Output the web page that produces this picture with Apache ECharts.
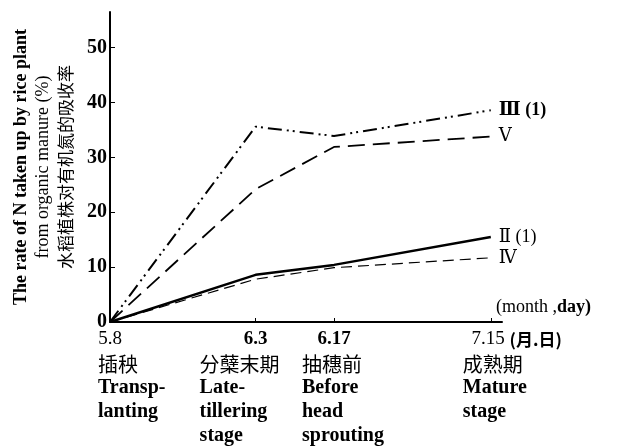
<!DOCTYPE html>
<html><head><meta charset="utf-8">
<script src="https://cdn.jsdelivr.net/npm/echarts@6/dist/echarts.min.js"></script>
<style>html,body{margin:0;padding:0;background:#fff}#c{width:619px;height:447px}</style>
</head><body><div id="c"></div>
<script>
// ---- data ----
const days = [0, 26, 40, 68];                 // days after 5.8
const dateLabels = ['5.8', '6.3', '6.17', '7.15'];
const stageCN = ['插秧', '分蘖末期', '抽穗前', '成熟期'];
const stageEN = [['Transp-', 'lanting'], ['Late-', 'tillering', 'stage'], ['Before', 'head', 'sprouting'], ['Mature', 'stage']];
const yTicks = [0, 10, 20, 30, 40, 50];
const seriesNames = ['Ⅲ (1)', 'Ⅴ', 'Ⅱ (1)', 'Ⅳ'];
const valsIII = [0, 35.6, 33.9, 38.6];
const valsV = [0, 24.2, 31.9, 33.8];
const valsII = [0, 8.6, 10.4, 15.5];
const valsIV = [0, 7.8, 9.9, 11.7];

// ---- styles ----
const SERIF = '"Liberation Serif", "DejaVu Serif", "Noto Sans CJK SC", serif';
const CJK = '"Noto Sans CJK SC", "Liberation Serif", serif';
const stageDx = [-12, -56, -32, -28];
const lineStyles = [
  {type: [14, 5, 2, 4, 2, 5], width: 2},
  {type: [17, 8], width: 1.8},
  {type: 'solid', width: 2.4},
  {type: [11, 6], width: 1.2}
];
const labelWeights = ['bold', 'normal', 'normal', 'normal'];
const allVals = [valsIII, valsV, valsII, valsIV];

const chart = echarts.init(document.getElementById('c'));
const option = {
  backgroundColor: '#fff',
  animation: false,
  grid: {left: 110, right: 117, top: 12, bottom: 125},
  xAxis: {
    type: 'value', min: 0, max: 70,
    name: '{a|(month ,}{b|day)}',
    nameLocation: 'end', nameGap: -6,
    nameTextStyle: {verticalAlign: 'bottom', align: 'left', padding: [0, 0, 6, 0],
      rich: {a: {fontFamily: SERIF, fontSize: 18, color: '#000'}, b: {fontFamily: SERIF, fontSize: 18, fontWeight: 'bold', color: '#000'}}},
    axisLine: {lineStyle: {color: '#000', width: 2}},
    axisTick: {show: true, inside: true, length: 4, customValues: days.slice(1), lineStyle: {color: '#000', width: 1}},
    axisLabel: {
      customValues: days, margin: 8,
      formatter: function (v) {
        const i = days.indexOf(v);
        if (i < 0) return '';
        if (i === 0) return '{r|' + dateLabels[i] + '}';
        if (i === days.length - 1) return '{p|}{r|' + dateLabels[i] + ' }{c|(月.日)}';
        return '{b|' + dateLabels[i] + '}';
      },
      rich: {
        r: {fontFamily: SERIF, fontSize: 19, color: '#000'},
        b: {fontFamily: SERIF, fontSize: 19, fontWeight: 'bold', color: '#000'},
        c: {fontFamily: CJK, fontSize: 17, fontWeight: 'bold', color: '#000'},
        p: {width: 52}
      }
    },
    splitLine: {show: false}
  },
  yAxis: {
    type: 'value', min: 0, max: 56.5,
    name: '{a|The rate of N taken up by rice plant}\n{b|from organic manure (%)}\n{c|水稻植株对有机氮的吸收率}',
    nameLocation: 'middle', nameRotate: 90, nameGap: 33,
    nameTextStyle: {rich: {
      a: {fontFamily: SERIF, fontSize: 18, fontWeight: 'bold', color: '#000', lineHeight: 22},
      b: {fontFamily: SERIF, fontSize: 18, color: '#000', lineHeight: 22},
      c: {fontFamily: CJK, fontSize: 17, color: '#000', lineHeight: 23}
    }},
    axisLine: {show: true, lineStyle: {color: '#000', width: 2}},
    axisTick: {show: true, inside: true, length: 5, customValues: yTicks.slice(1), lineStyle: {color: '#000', width: 1}},
    axisLabel: {customValues: yTicks, margin: 3, fontFamily: SERIF, fontSize: 20, fontWeight: 'bold', color: '#000'},
    splitLine: {show: false}
  },
  series: seriesNames.map(function (n, k) {
    return {
      type: 'line', name: n, symbol: 'none',
      data: days.map(function (d, i) { return [d, allVals[k][i]]; }),
      lineStyle: Object.assign({color: '#000', cap: 'butt'}, lineStyles[k]),
      endLabel: {show: true, formatter: '{a}', distance: 8, color: '#000', fontFamily: SERIF, fontSize: 18, fontWeight: labelWeights[k]}
    };
  })
};
chart.setOption(option);

const y0 = chart.convertToPixel({yAxisIndex: 0}, 0);
chart.setOption({
  graphic: days.map(function (d, i) {
    const txt = ['{c|' + stageCN[i] + '}'].concat(stageEN[i].map(function (s) { return '{e|' + s + '}'; })).join('\n');
    return {
      type: 'text',
      x: chart.convertToPixel({xAxisIndex: 0}, d) + stageDx[i],
      y: y0 + 30,
      style: {
        text: txt, verticalAlign: 'top', align: 'left', fill: '#000',
        rich: {
          c: {fontFamily: CJK, fontSize: 20, lineHeight: 24, color: '#000'},
          e: {fontFamily: SERIF, fontSize: 20, fontWeight: 'bold', lineHeight: 24, color: '#000'}
        }
      }
    };
  })
});
</script></body></html>
